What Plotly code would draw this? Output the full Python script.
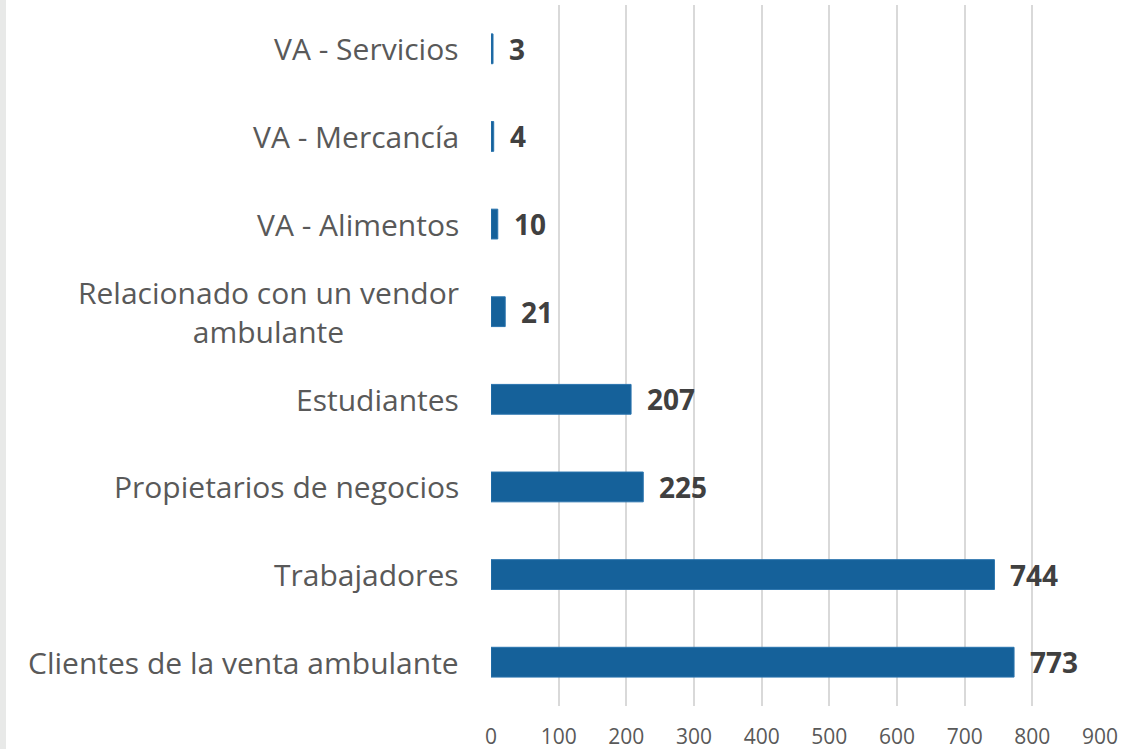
import plotly.graph_objects as go

categories = [
    "Clientes de la venta ambulante",
    "Trabajadores",
    "Propietarios de negocios",
    "Estudiantes",
    "Relacionado con un vendor<br>ambulante",
    "VA - Alimentos",
    "VA - Mercancía",
    "VA - Servicios",
]
values = [773, 744, 225, 207, 21, 10, 4, 3]
x_ticks = [0, 100, 200, 300, 400, 500, 600, 700, 800, 900]

W, H = 1145, 749
L, R, T, B = 491, 45, 5, 43
pw = W - L - R

fig = go.Figure()
fig.add_trace(go.Bar(
    y=categories, x=values, orientation="h",
    marker=dict(color="#15619A", line=dict(color="#2A74AE", width=1)),
    hoverinfo="x+y",
))

annotations = []
for c, v in zip(categories, values):
    annotations.append(dict(
        x=v, y=c, xref="x", yref="y", text=f"<b>{v}</b>",
        showarrow=False, xanchor="left", xshift=14,
        font=dict(family="Open Sans", size=28, color="#404040"),
    ))
    annotations.append(dict(
        x=0, y=c, xref="paper", yref="y", text=c,
        showarrow=False, xanchor="right", align="center", xshift=-30,
        font=dict(family="Open Sans", size=30, color="#595959"),
    ))

fig.update_layout(
    width=W, height=H,
    margin=dict(l=L, r=R, t=T, b=B, pad=0, autoexpand=False),
    paper_bgcolor="white", plot_bgcolor="white",
    bargap=0.66,
    showlegend=False,
    annotations=annotations,
    shapes=[dict(type="rect", xref="paper", yref="paper",
                 x0=-L / pw, x1=(6 - L) / pw, y0=-B / (H - T - B), y1=1 + T / (H - T - B),
                 fillcolor="#E8E9E8", line=dict(width=0), layer="below")],
    xaxis=dict(range=[0, 900], tickvals=x_ticks, showgrid=True, gridcolor="#D9D9D9",
               gridwidth=2, zeroline=False, showline=False, ticks="", automargin=False,
               tickfont=dict(family="Open Sans", size=21, color="#595959"),
               ticklabelstandoff=16),
    yaxis=dict(categoryorder="array", categoryarray=categories, showticklabels=False,
               showgrid=False, zeroline=False, showline=False, ticks="", automargin=False),
)

fig.write_html("out.html", config={"displayModeBar": False},
               post_script="document.body.style.margin='0';")
